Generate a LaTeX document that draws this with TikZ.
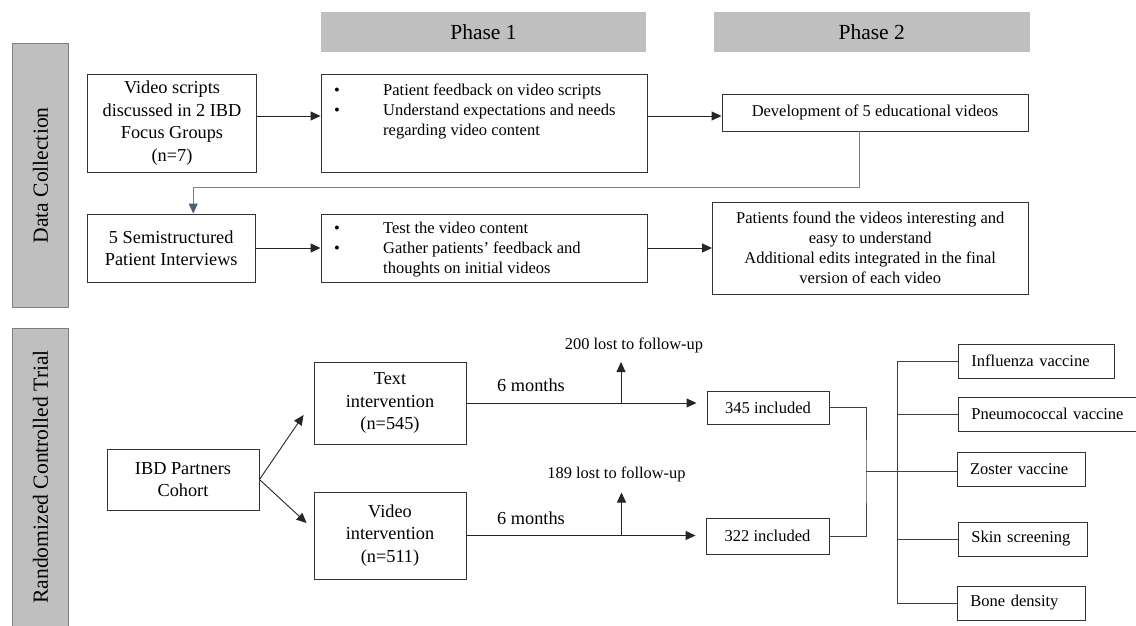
\documentclass[tikz,border=0pt]{standalone}
\usepackage{fontspec}
\setmainfont{Liberation Serif}
\usetikzlibrary{positioning,calc,arrows.meta}

\definecolor{barfill}{HTML}{BFBFBF}
\definecolor{barline}{HTML}{7F7F7F}
\definecolor{tipblue}{HTML}{4A5E78}

\newcommand{\bitem}{\makebox[49pt][l]{\textbullet}}

\begin{document}
\begin{tikzpicture}[
    x=1pt, y=-1pt,
    box/.style={rectangle, draw=black!80, line width=0.9pt, align=center,
                inner sep=3pt, font=\fontsize{16.5}{20}\selectfont},
    bigbox/.style={box, font=\fontsize{18.3}{22.5}\selectfont},
    listtext/.style={anchor=north west, align=left, inner sep=0pt,
                font=\fontsize{16.5}{20}\selectfont},
    outcome/.style={box, anchor=west, align=left, inner xsep=13pt, minimum height=34pt},
    phase/.style={fill=barfill, minimum height=40pt, font=\fontsize{21.5}{24}\selectfont},
    side/.style={draw=barline, line width=1pt, fill=barfill, rotate=90,
                minimum height=56pt, font=\fontsize{21.6}{24}\selectfont},
    months/.style={font=\fontsize{18.3}{22}\selectfont},
    lostnote/.style={font=\fontsize{16.4}{20}\selectfont},
    arrow/.style={-{Triangle[length=10pt, width=9pt]}, line width=0.9pt, black!85},
    link/.style={line width=0.9pt, black!75}
]
\useasboundingbox (0,0) rectangle (1136,626);

% Phase headers and side bars
\node[phase, minimum width=325pt] (phase1) at (483.5,32) {Phase 1};
\node[phase, minimum width=315.5pt] (phase2) at (871.75,32) {Phase 2};
\node[side, minimum width=263pt] (collect) at (40.5,175.5) {Data Collection};
\node[side, minimum width=298pt] (trial) at (40.5,477) {Randomized Controlled Trial};

% Data collection, row 1
\node[bigbox, minimum width=169pt, minimum height=98pt] (scripts) at (172,123)
    {Video scripts\\discussed in 2 IBD\\Focus Groups\\(n=7)};
\node[box, minimum width=326pt, minimum height=98pt] (feedback) at (484,123) {};
\node[listtext] (feedbacktxt) at (334,84)
    {\bitem Patient feedback on video scripts\\\bitem Understand expectations and needs\\\hspace*{49pt}regarding video content};
\node[box, minimum width=306pt, minimum height=37pt] (develop) at (875,112.5)
    {Development of 5 educational videos};

% Data collection, row 2
\node[bigbox, minimum width=167.5pt, minimum height=68pt] (interviews) at (171.25,248)
    {5 Semistructured\\Patient Interviews};
\node[box, minimum width=326pt, minimum height=68pt] (testing) at (484,248) {};
\node[listtext] (testingtxt) at (334,222)
    {\bitem Test the video content\\\bitem Gather patients' feedback and\\\hspace*{49pt}thoughts on initial videos};
\node[box, minimum width=315.5pt, minimum height=92pt] (findings) at (870.25,248)
    {Patients found the videos interesting and\\easy to understand\\Additional edits integrated in the final\\version of each video};

\draw[arrow] ($(scripts.east)+(0,-7)$) -- ($(feedback.west)+(0,-7)$);
\draw[arrow] ($(feedback.east)+(0,-7)$) -- ($(develop.west)+(0,3.5)$);
\draw[arrow] (interviews.east) -- (testing.west);
\draw[arrow] (testing.east) -- (findings.west);
\draw[link, gray, -{Triangle[length=10pt, width=9pt, color=tipblue]}]
    ($(develop.south)+(-16,0)$) -- ++(0,56) -| ($(interviews.north)+(22,0)$);

% Trial arms
\node[bigbox, minimum width=152pt, minimum height=61pt] (cohort) at (183,479.5) {IBD Partners\\Cohort};
\node[bigbox, minimum width=152pt, minimum height=82pt] (textarm) at (390,403) {Text\\intervention\\(n=545)};
\node[bigbox, minimum width=152pt, minimum height=87pt] (videoarm) at (390,535.5) {Video\\intervention\\(n=511)};
\node[box, minimum width=122pt, minimum height=33pt] (incl345) at (768,407.5) {345 included};
\node[box, minimum width=123pt, minimum height=36pt] (incl322) at (767.5,536) {322 included};

\node[months] (months1) at (531,385) {6 months};
\node[months] (months2) at (531,518) {6 months};
\node[lostnote] (lost200) at (634,345) {200 lost to follow-up};
\node[lostnote] (lost189) at (616.5,474) {189 lost to follow-up};

\coordinate (drop1) at (621,403);
\coordinate (drop2) at (621.5,535.5);

\draw[arrow] (cohort.east) -- ($(textarm.west)+(-10,12)$);
\draw[arrow] (cohort.east) -- ($(videoarm.west)+(-7,-12.5)$);
\draw[arrow, shorten >=10pt] (textarm.east) -- (textarm.east -| incl345.west);
\draw[arrow, shorten >=10pt] (videoarm.east) -- (videoarm.east -| incl322.west);
\draw[arrow] (drop1) -- ++(0,-41);
\draw[arrow] (drop2) -- ++(0,-43);

% Outcomes
\node[outcome, text width=130pt] (flu) at (958,361) {Influenza vaccine};
\node[outcome, text width=166pt] (pneumo) at (958,414) {Pneumococcal vaccine};
\node[outcome, text width=102pt] (zoster) at (956.7,469.5) {Zoster vaccine};
\node[outcome, text width=103pt] (skin) at (958,539) {Skin screening};
\node[outcome, text width=102pt] (bone) at (957,603) {Bone density};

\coordinate (merge) at (866,471);
\coordinate (spine) at (897,0);
\draw[link] (incl345.east) -| (merge) |- (incl322.east);
\draw[link] (merge) -- (merge -| zoster.west);
\draw[link] (spine |- flu.west) -- (spine |- bone.west);
\foreach \o in {flu,pneumo,skin,bone}
    \draw[link] (spine |- \o.west) -- (\o.west);

\end{tikzpicture}
\end{document}
